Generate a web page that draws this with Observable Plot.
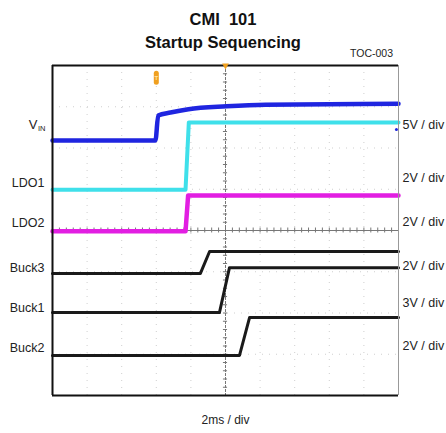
<!DOCTYPE html>
<html>
<head>
<meta charset="utf-8">
<script src="https://cdn.jsdelivr.net/npm/d3@7"></script>
<script src="https://cdn.jsdelivr.net/npm/@observablehq/plot@0.6"></script>
<style>
  body { margin: 0; background: #fff; font-family: "Liberation Sans", Arial, sans-serif; }
  #wrap { width: 446px; height: 433px; position: relative; }
  #head { position: relative; height: 58px; }
  .t1, .t2 { position: absolute; left: 0; width: 446px; text-align: center; font-weight: bold; color: #111; font-size: 16.5px; }
  .t1 { top: 10px; }
  .t2 { top: 33px; }
  .toc { position: absolute; left: 350px; top: 47px; font-size: 10.5px; color: #222; }
  svg { display: block; }
</style>
</head>
<body>
<div id="wrap">
  <div id="head">
    <div class="t1">CMI&nbsp; 101</div>
    <div class="t2">Startup Sequencing</div>
    <div class="toc">TOC-003</div>
  </div>
  <div id="chart"></div>
</div>
<script>
// time in ms (2 ms/div, center = 0), level in screen divisions (0..8 from bottom)
const vinTime   = [-10, -4.05, -3.89, -3.18, -2.14, 0.06, 2.31, 10];
const vinLevel  = [6.18, 6.18, 6.79, 6.86, 6.94, 7.01, 7.05, 7.07];
const ldo1Time  = [-10, -2.31, -2.12, 10];
const ldo1Level = [4.99, 4.99, 6.62, 6.62];
const ldo2Time  = [-10, -2.31, -2.16, 10];
const ldo2Level = [3.98, 3.98, 4.85, 4.85];
const buck3Time  = [-10, -1.45, -0.92, 10];
const buck3Level = [2.96, 2.96, 3.49, 3.49];
const buck1Time  = [-10, -0.35, 0.23, 10];
const buck1Level = [2.01, 2.01, 3.10, 3.10];
const buck2Time  = [-10, 0.81, 1.39, 10];
const buck2Level = [0.97, 0.97, 1.89, 1.89];

const channelNames = ["LDO1", "LDO2", "Buck3", "Buck1", "Buck2"];
const channelLabelY = [5.16, 4.17, 3.10, 2.11, 1.14];
const scaleLabels = ["5V / div", "2V / div", "2V / div", "2V / div", "3V / div", "2V / div"];
const scaleLabelY = [6.55, 5.28, 4.20, 3.13, 2.25, 1.21];
const vinLabelY = 6.55;
const triggerTime = -4;
const gridTimes = [-8, -6, -4, -2, 2, 4, 6, 8];
const gridLevels = [1, 2, 3, 5, 6, 7];
const timeLabel = "2ms / div";

const pts = (t, v) => t.map((d, i) => ({t: d, v: v[i]}));
const minorX = d3.range(-10, 10.001, 0.4);
const minorY = d3.range(0, 8.001, 0.2);

const txt = {fontFamily: "Liberation Sans, Arial, sans-serif", fill: "#222"};

const chart = Plot.plot({
  width: 446,
  height: 375,
  marginLeft: 52,
  marginRight: 48,
  marginTop: 7,
  marginBottom: 38,
  x: {domain: [-10, 10], axis: null},
  y: {domain: [0, 8], axis: null},
  marks: [
    // faint grid
    Plot.ruleX(gridTimes, {stroke: "#bbb", strokeWidth: 1, strokeDasharray: "1,6", strokeOpacity: 0.7}),
    Plot.ruleY(gridLevels, {stroke: "#bbb", strokeWidth: 1, strokeDasharray: "1,6", strokeOpacity: 0.7}),
    // center crosshair
    Plot.ruleX([0], {stroke: "#777", strokeWidth: 1, strokeDasharray: "3,1"}),
    Plot.ruleY([4], {stroke: "#777", strokeWidth: 1}),
    Plot.ruleX(minorX, {x: d => d, y1: 3.94, y2: 4.06, stroke: "#777", strokeWidth: 1}),
    Plot.ruleY(minorY, {y: d => d, x1: -0.12, x2: 0.12, stroke: "#777", strokeWidth: 1}),
    // traces
    Plot.line(pts(vinTime, vinLevel), {x: "t", y: "v", stroke: "#1f25e0", strokeWidth: 4.5, curve: "monotone-x"}),
    Plot.line(pts(ldo1Time, ldo1Level), {x: "t", y: "v", stroke: "#3fe0ea", strokeWidth: 4}),
    Plot.line(pts(ldo2Time, ldo2Level), {x: "t", y: "v", stroke: "#e21ee2", strokeWidth: 4.5}),
    Plot.line(pts(buck3Time, buck3Level), {x: "t", y: "v", stroke: "#1a1a1a", strokeWidth: 3}),
    Plot.line(pts(buck1Time, buck1Level), {x: "t", y: "v", stroke: "#1a1a1a", strokeWidth: 3}),
    Plot.line(pts(buck2Time, buck2Level), {x: "t", y: "v", stroke: "#1a1a1a", strokeWidth: 3}),
    // frame
    Plot.ruleX([10], {stroke: "#999", strokeWidth: 1}),
    Plot.ruleX([-10], {stroke: "#111", strokeWidth: 2}),
    Plot.ruleY([0], {stroke: "#111", strokeWidth: 2}),
    Plot.ruleY([8], {stroke: "#111", strokeWidth: 2}),
    // markers
    Plot.dot([0], {x: d => d, y: 8, symbol: "triangle", r: 2.5, fill: "#f0a020", rotate: 180}),
    Plot.ruleX([triggerTime], {x: d => d, y1: 7.58, y2: 7.8, stroke: "#f0a020", strokeWidth: 5, strokeLinecap: "round"}),
    Plot.text(["T"], {x: triggerTime, y: 7.7, text: d => d, fill: "#ffe0a0", fontSize: 6, fontWeight: "bold", fontFamily: "Liberation Sans, Arial, sans-serif"}),
    Plot.dot([9.88], {x: d => d, y: 6.45, r: 1.5, fill: "#1f25e0"}),
    // left labels
    Plot.text(["V"], {x: -10, y: vinLabelY, text: d => d, dx: -15, textAnchor: "end", fontSize: 13, ...txt}),
    Plot.text(["IN"], {x: -10, y: vinLabelY, text: d => d, dx: -7, dy: 3, textAnchor: "end", fontSize: 7.5, ...txt}),
    Plot.text(channelNames, {x: -10, y: (d, i) => channelLabelY[i], text: d => d, dx: -8, textAnchor: "end", fontSize: 12.5, ...txt}),
    // right labels
    Plot.text(scaleLabels, {x: 10, y: (d, i) => scaleLabelY[i], text: d => d, dx: 4, textAnchor: "start", fontSize: 12.5, ...txt}),
    // time/div label
    Plot.text([timeLabel], {x: 0, frameAnchor: "bottom", text: d => d, dy: 28, fontSize: 12, ...txt})
  ]
});
document.getElementById("chart").appendChild(chart);
</script>
</body>
</html>
